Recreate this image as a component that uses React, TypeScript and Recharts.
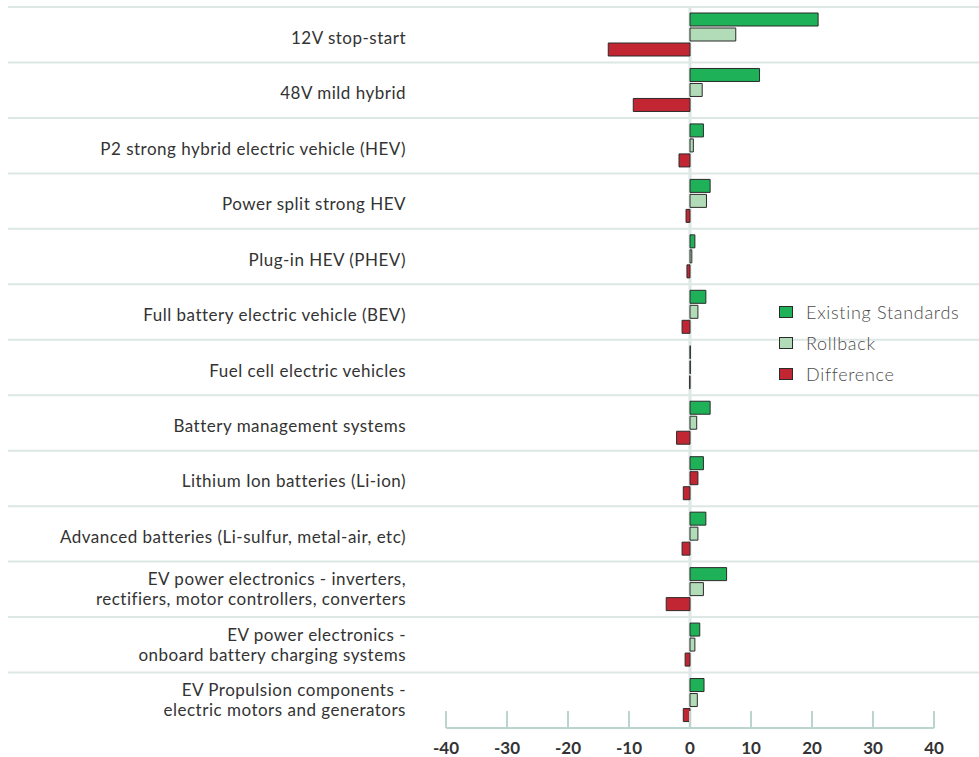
import React from 'react';
import {
  BarChart,
  Bar,
  XAxis,
  YAxis,
  Legend,
  CartesianGrid,
  Cell
} from 'recharts';

// categories (top to bottom), "\n" marks a line break in the label
const categories = [
  '12V stop-start',
  '48V mild hybrid',
  'P2 strong hybrid electric vehicle (HEV)',
  'Power split strong HEV',
  'Plug-in HEV (PHEV)',
  'Full battery electric vehicle (BEV)',
  'Fuel cell electric vehicles',
  'Battery management systems',
  'Lithium Ion batteries (Li-ion)',
  'Advanced batteries (Li-sulfur, metal-air, etc)',
  'EV power electronics - inverters,\nrectifiers, motor controllers, converters',
  'EV power electronics -\nonboard battery charging systems',
  'EV Propulsion components -\nelectric motors and generators'
];

const existingStandards = [21.0, 11.4, 2.2, 3.3, 0.8, 2.6, 0.05, 3.3, 2.2, 2.6, 6.0, 1.6, 2.3];
const rollback = [7.5, 2.0, 0.55, 2.7, 0.3, 1.3, 0.05, 1.1, 1.3, 1.3, 2.2, 0.8, 1.2];
const difference = [-13.4, -9.3, -1.8, -0.65, -0.5, -1.3, -0.05, -2.2, -1.1, -1.3, -3.9, -0.8, -1.1];

// the Li-ion rollback bar is drawn red in the original
const rollbackRed = ['Lithium Ion batteries (Li-ion)'];

const xTicks = [-40, -30, -20, -10, 0, 10, 20, 30, 40];
const xDomain = [-40, 40];

const GREEN = '#1eb157';
const LIGHT = '#b2dcb7';
const RED = '#c32633';
const EDGE = '#2b2b2b';
const GRID = '#dde7e5';
const AXIS = '#bcd4d0';

const data = categories.map((name, i) => ({
  name,
  existing: existingStandards[i],
  rollback: rollback[i],
  difference: difference[i]
}));

const CHART_W = 979;
const CHART_H = 757;
const TOP = 7;
const PLOT_H = 721;
const BAND = PLOT_H / categories.length;

const labelStyle = { fontSize: 17, letterSpacing: 0.5 };

const CategoryTick = ({ x, y, payload }: any) => {
  const lines = String(payload.value).split('\n');
  const top = y - BAND / 2;
  return (
    <g>
      <line x1={8} x2={CHART_W} y1={top} y2={top} stroke={GRID} strokeWidth={2} />
      {lines.length === 1 ? (
        <text x={x} y={y + 9} textAnchor="end" fill="#333" style={labelStyle}>
          {lines[0]}
        </text>
      ) : (
        lines.map((l: string, i: number) => (
          <text key={i} x={x} y={y - 4 + i * 20} textAnchor="end" fill="#333" style={labelStyle}>
            {l}
          </text>
        ))
      )}
    </g>
  );
};

const ValueTick = ({ x, y, payload }: any) => (
  <g>
    <line x1={x} x2={x} y1={y - 17} y2={y} stroke={AXIS} strokeWidth={2} />
    <text x={x} y={y + 26} textAnchor="middle" fill="#333" fontSize={17} fontWeight={700}>
      {payload.value}
    </text>
  </g>
);

// pixel position of value 0 in the plot area
const zeroLine = ({ offset }: any) => {
  const [lo, hi] = xDomain;
  return [offset.left + ((0 - lo) / (hi - lo)) * offset.width];
};

const legendItems = [
  { label: 'Existing Standards', color: GREEN },
  { label: 'Rollback', color: LIGHT },
  { label: 'Difference', color: RED }
];

const LegendBox = () => (
  <div>
    {legendItems.map((it) => (
      <div key={it.label} style={{ display: 'flex', alignItems: 'center', height: 31 }}>
        <span
          style={{
            display: 'inline-block',
            width: 12,
            height: 10,
            background: it.color,
            border: `1px solid ${EDGE}`,
            marginRight: 13
          }}
        />
        <span style={{ fontSize: 18, letterSpacing: 0.7, color: '#4a4a4a', fontWeight: 300 }}>{it.label}</span>
      </div>
    ))}
  </div>
);

export default function App() {
  return (
    <div style={{ position: 'absolute', left: 0, top: 0, fontFamily: 'Lato, sans-serif' }}>
      <BarChart
        width={CHART_W}
        height={CHART_H}
        data={data}
        layout="vertical"
        margin={{ top: TOP, right: 45, bottom: 0, left: 0 }}
        barSize={13}
        barGap={2}
      >
        <CartesianGrid
          horizontal={false}
          stroke={GRID}
          strokeWidth={3}
          verticalCoordinatesGenerator={zeroLine}
        />
        <XAxis
          type="number"
          domain={xDomain}
          ticks={xTicks}
          interval={0}
          height={CHART_H - TOP - PLOT_H}
          tickSize={0}
          tickMargin={0}
          axisLine={{ stroke: AXIS, strokeWidth: 2 }}
          tick={<ValueTick />}
        />
        <YAxis
          type="category"
          dataKey="name"
          width={446}
          tickSize={0}
          tickMargin={40}
          axisLine={false}
          interval={0}
          tick={<CategoryTick />}
        />
        <Legend
          layout="vertical"
          align="center"
          verticalAlign="middle"
          content={<LegendBox />}
          wrapperStyle={{ left: 779, top: 296, width: 200 }}
        />
        <Bar dataKey="existing" name="Existing Standards" fill={GREEN} stroke={EDGE} strokeWidth={1} isAnimationActive={false} />
        <Bar dataKey="rollback" name="Rollback" fill={LIGHT} stroke={EDGE} strokeWidth={1} isAnimationActive={false}>
          {data.map((d, i) => (
            <Cell key={i} fill={rollbackRed.includes(d.name) ? RED : LIGHT} />
          ))}
        </Bar>
        <Bar dataKey="difference" name="Difference" fill={RED} stroke={EDGE} strokeWidth={1} isAnimationActive={false} />
      </BarChart>
    </div>
  );
}
